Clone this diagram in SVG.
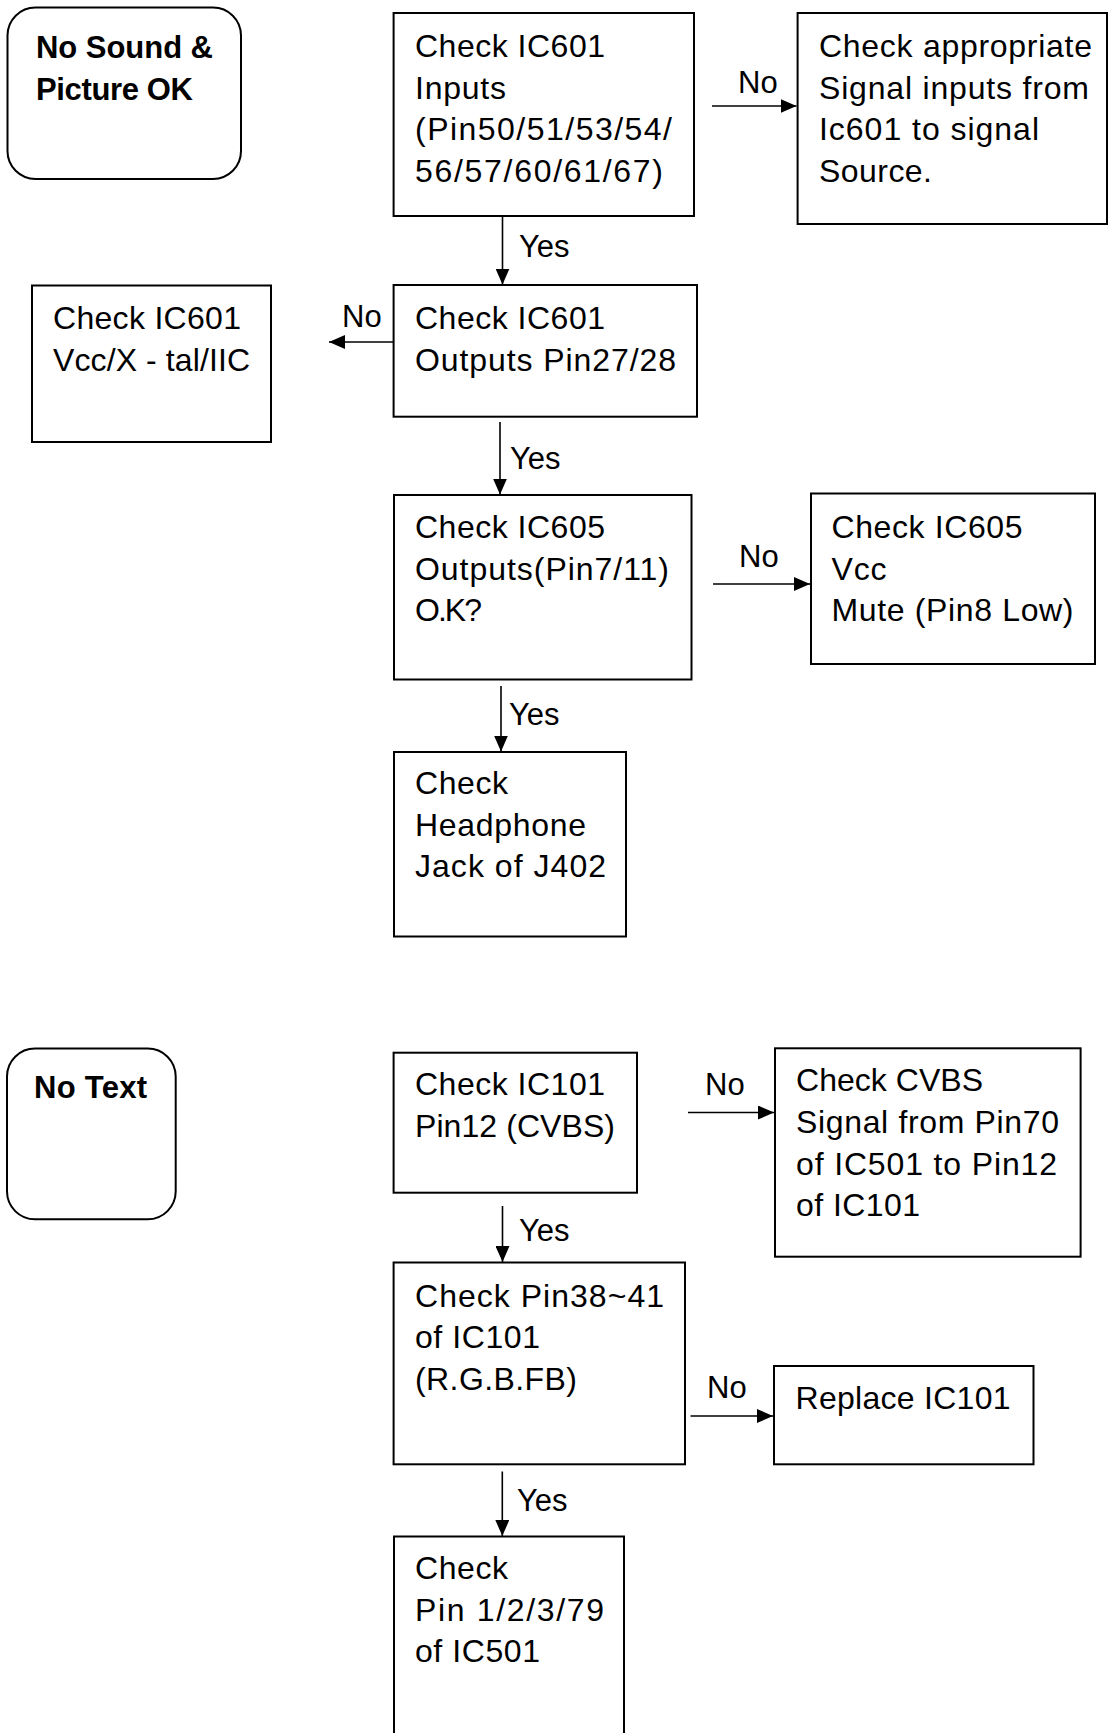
<svg xmlns="http://www.w3.org/2000/svg" width="1109" height="1733" viewBox="0 0 1109 1733">
<defs>
<marker id="arr" markerUnits="userSpaceOnUse" markerWidth="17" markerHeight="14" refX="16" refY="7" orient="auto">
<path d="M0,0 L16,7 L0,14 z" fill="#000"/>
</marker>
</defs>
<style>
.box{fill:#fff;stroke:#000;stroke-width:2}
.t{font-family:"Liberation Sans",Arial,sans-serif;font-size:32px;fill:#000}
.l{font-family:"Liberation Sans",Arial,sans-serif;font-size:31px;fill:#000}
.b{font-family:"Liberation Sans",Arial,sans-serif;font-size:31px;font-weight:bold;fill:#000}
.c{stroke:#000;stroke-width:1.6;fill:none;marker-end:url(#arr)}
</style>
<rect width="1109" height="1733" fill="#fff"/>

<g id="connectors">
<line class="c" x1="502.5" y1="216" x2="502.5" y2="284.5"/>
<text class="l" x="519" y="257">Yes</text>
<line class="c" x1="712" y1="106" x2="796.5" y2="106"/>
<text class="l" x="738" y="93">No</text>
<line class="c" x1="393.6" y1="342" x2="329" y2="342"/>
<text class="l" x="342" y="327">No</text>
<line class="c" x1="500" y1="422" x2="500" y2="494.5"/>
<text class="l" x="510" y="469">Yes</text>
<line class="c" x1="713" y1="584" x2="810" y2="584"/>
<text class="l" x="739" y="567">No</text>
<line class="c" x1="501" y1="686" x2="501" y2="751.5"/>
<text class="l" x="509" y="725">Yes</text>
<line class="c" x1="688" y1="1112.5" x2="774" y2="1112.5"/>
<text class="l" x="705" y="1095">No</text>
<line class="c" x1="502.5" y1="1206" x2="502.5" y2="1262"/>
<text class="l" x="519" y="1241">Yes</text>
<line class="c" x1="690.5" y1="1416" x2="773" y2="1416"/>
<text class="l" x="707" y="1398">No</text>
<line class="c" x1="502.3" y1="1471.5" x2="502.3" y2="1536"/>
<text class="l" x="517" y="1511">Yes</text>
</g>

<g id="n1">
<rect class="box" x="7.5" y="7.5" width="233.5" height="171.5" rx="28" ry="28"/>
<text class="b" x="36" y="58" textLength="177" lengthAdjust="spacing">No Sound &amp;</text>
<text class="b" x="36" y="100" textLength="157" lengthAdjust="spacing">Picture OK</text>
</g>

<g id="n2">
<rect class="box" x="393.6" y="13" width="300.4" height="203"/>
<text class="t" x="415" y="57" textLength="190" lengthAdjust="spacing">Check IC601</text>
<text class="t" x="415" y="98.5" textLength="91" lengthAdjust="spacing">Inputs</text>
<text class="t" x="415" y="140" textLength="257" lengthAdjust="spacing">(Pin50/51/53/54/</text>
<text class="t" x="415" y="181.5" textLength="248" lengthAdjust="spacing">56/57/60/61/67)</text>
</g>

<g id="n3">
<rect class="box" x="797.6" y="13" width="309.4" height="211"/>
<text class="t" x="819" y="57" textLength="273" lengthAdjust="spacing">Check appropriate</text>
<text class="t" x="819" y="98.5" textLength="270" lengthAdjust="spacing">Signal inputs from</text>
<text class="t" x="819" y="140" textLength="220" lengthAdjust="spacing">Ic601 to signal</text>
<text class="t" x="819" y="181.5" textLength="113" lengthAdjust="spacing">Source.</text>
</g>

<g id="n5">
<rect class="box" x="393.6" y="285" width="303.4" height="131.7"/>
<text class="t" x="415" y="329" textLength="190" lengthAdjust="spacing">Check IC601</text>
<text class="t" x="415" y="370.5" textLength="261" lengthAdjust="spacing">Outputs Pin27/28</text>
</g>

<g id="n6">
<rect class="box" x="32" y="285.5" width="239" height="156.5"/>
<text class="t" x="53" y="329" textLength="188" lengthAdjust="spacing">Check IC601</text>
<text class="t" x="53" y="370.5" textLength="197" lengthAdjust="spacing">Vcc/X - tal/IIC</text>
</g>

<g id="n8">
<rect class="box" x="394" y="495" width="297.5" height="184.5"/>
<text class="t" x="415" y="538" textLength="190" lengthAdjust="spacing">Check IC605</text>
<text class="t" x="415" y="579.5" textLength="254" lengthAdjust="spacing">Outputs(Pin7/11)</text>
<text class="t" x="415" y="621" textLength="67" lengthAdjust="spacing">O.K?</text>
</g>

<g id="n9">
<rect class="box" x="811" y="493.5" width="284" height="170.5"/>
<text class="t" x="831.5" y="538" textLength="191" lengthAdjust="spacing">Check IC605</text>
<text class="t" x="831.5" y="579.5" textLength="55" lengthAdjust="spacing">Vcc</text>
<text class="t" x="831.5" y="621" textLength="242" lengthAdjust="spacing">Mute (Pin8 Low)</text>
</g>

<g id="n11">
<rect class="box" x="394" y="752" width="232" height="184.5"/>
<text class="t" x="415" y="794" textLength="93" lengthAdjust="spacing">Check</text>
<text class="t" x="415" y="835.5" textLength="171" lengthAdjust="spacing">Headphone</text>
<text class="t" x="415" y="877" textLength="191" lengthAdjust="spacing">Jack of J402</text>
</g>

<g id="n12">
<rect class="box" x="7" y="1048.5" width="168.7" height="170.8" rx="28" ry="28"/>
<text class="b" x="34" y="1098" textLength="113" lengthAdjust="spacing">No Text</text>
</g>

<g id="n13">
<rect class="box" x="393.6" y="1052.7" width="243.4" height="140"/>
<text class="t" x="415" y="1095" textLength="190" lengthAdjust="spacing">Check IC101</text>
<text class="t" x="415" y="1137" textLength="200" lengthAdjust="spacing">Pin12 (CVBS)</text>
</g>

<g id="n14">
<rect class="box" x="775" y="1048.3" width="305.6" height="208.4"/>
<text class="t" x="796" y="1091" textLength="187" lengthAdjust="spacing">Check CVBS</text>
<text class="t" x="796" y="1133" textLength="263" lengthAdjust="spacing">Signal from Pin70</text>
<text class="t" x="796" y="1174.5" textLength="261" lengthAdjust="spacing">of IC501 to Pin12</text>
<text class="t" x="796" y="1216" textLength="124" lengthAdjust="spacing">of IC101</text>
</g>

<g id="n16">
<rect class="box" x="393.6" y="1262.5" width="291.4" height="201.8"/>
<text class="t" x="415" y="1306.5" textLength="249" lengthAdjust="spacing">Check Pin38~41</text>
<text class="t" x="415" y="1348" textLength="125" lengthAdjust="spacing">of IC101</text>
<text class="t" x="415" y="1389.5" textLength="162" lengthAdjust="spacing">(R.G.B.FB)</text>
</g>

<g id="n17">
<rect class="box" x="774" y="1366" width="259.5" height="98.3"/>
<text class="t" x="795.5" y="1409" textLength="215" lengthAdjust="spacing">Replace IC101</text>
</g>

<g id="n19">
<rect class="box" x="394" y="1536.5" width="230" height="230"/>
<text class="t" x="415" y="1579" textLength="93" lengthAdjust="spacing">Check</text>
<text class="t" x="415" y="1620.5" textLength="189" lengthAdjust="spacing">Pin 1/2/3/79</text>
<text class="t" x="415" y="1662" textLength="125" lengthAdjust="spacing">of IC501</text>
</g>
</svg>
